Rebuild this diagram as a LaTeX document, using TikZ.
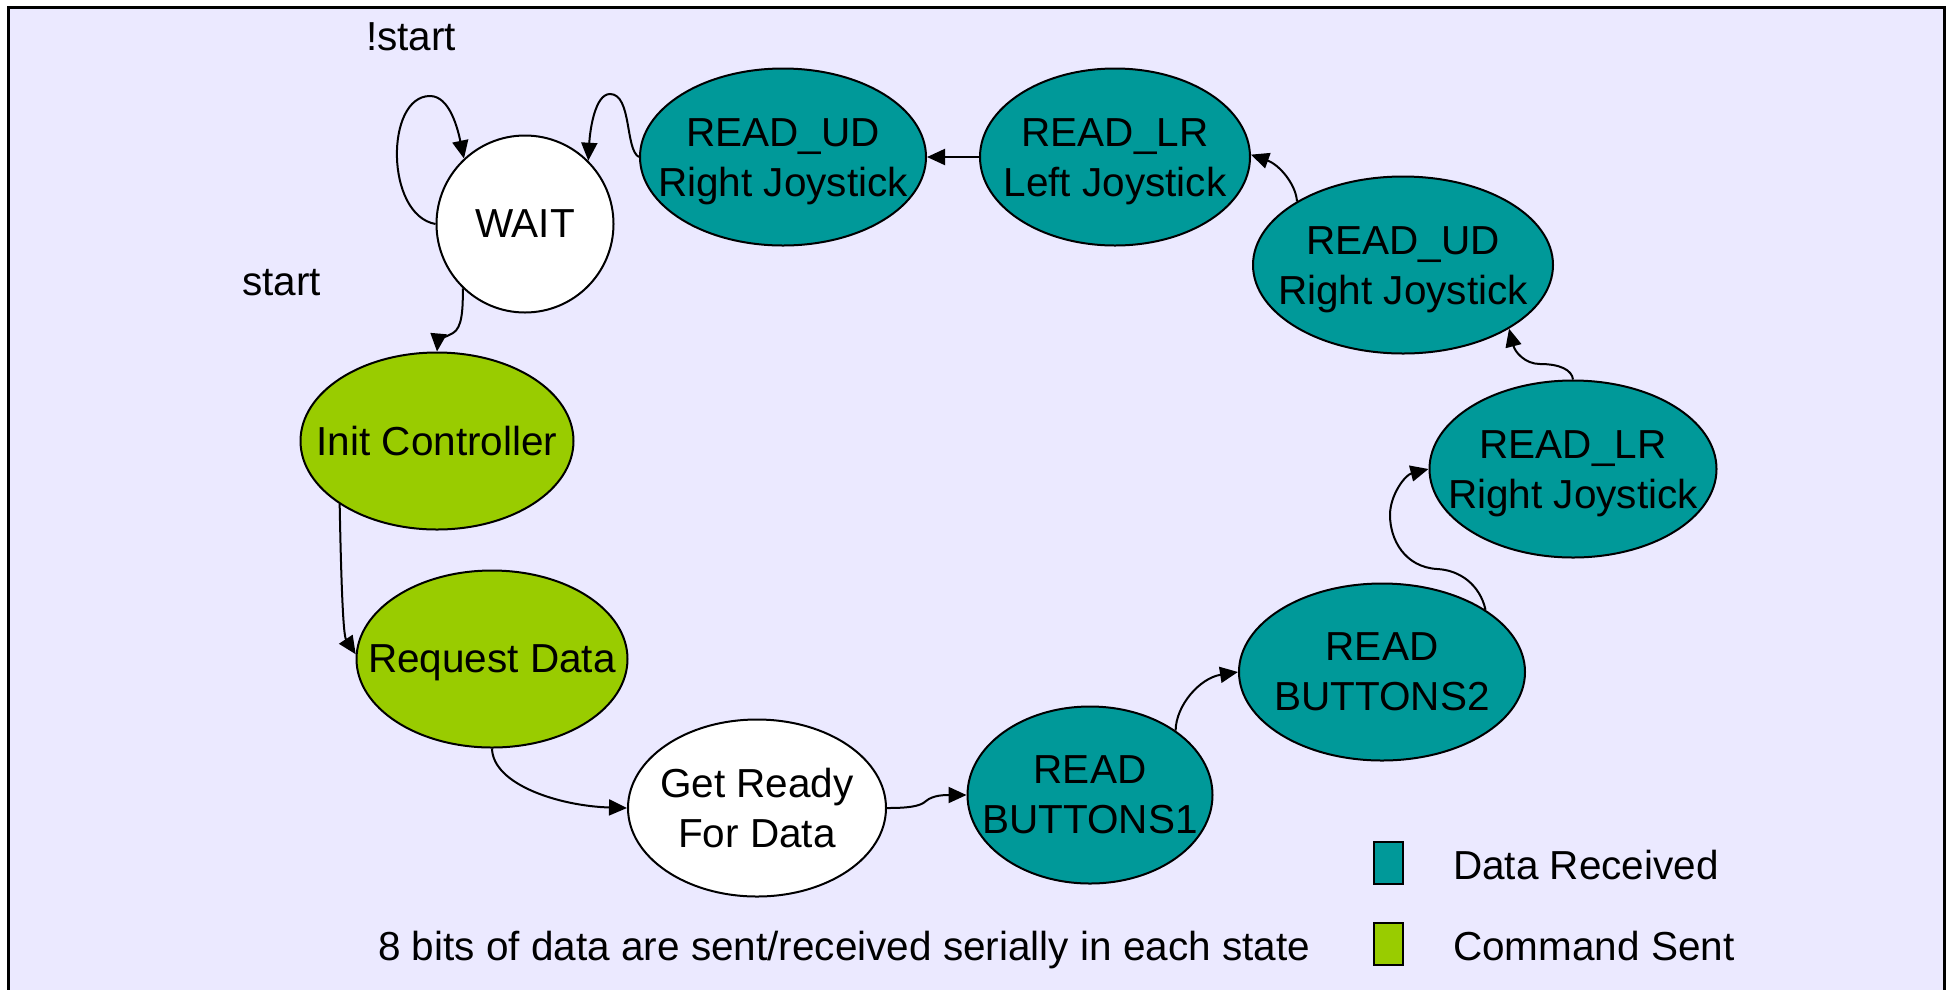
\documentclass[tikz,border=0pt]{standalone}
\usepackage{fontspec}
\setmainfont{Liberation Sans}
\usetikzlibrary{arrows.meta,shapes.geometric}

\definecolor{panel}{RGB}{235,233,255}
\definecolor{datafill}{RGB}{0,153,153}
\definecolor{cmdfill}{RGB}{153,204,0}

\tikzset{
  state/.style={ellipse, draw=black, line width=2pt, inner sep=0pt, minimum height=177pt},
  txt/.style={align=center, inner sep=0pt},
  flow/.style={line width=2pt, -{Triangle[length=18pt,width=16pt]}},
  note/.style={anchor=base west, inner sep=0pt},
  swatch/.style={draw=black, line width=2pt, minimum width=29pt, minimum height=42pt, inner sep=0pt}
}

\begin{document}
\begin{tikzpicture}[x=1pt, y=-1pt, font=\fontsize{40.5}{50}\selectfont]
  \useasboundingbox (0,0) rectangle (1949,989);
  \fill[white] (0,0) rectangle (1949,989);
  % framed panel
  \draw[line width=3pt, fill=panel] (8,7) rectangle (1944,1000);

  % states
  \node[state, fill=white,    minimum width=177pt] (wait)     at (525,224)  {};
  \node[state, fill=datafill, minimum width=286pt] (rudTop)   at (783,157)  {};
  \node[state, fill=datafill, minimum width=270pt] (rlrLeft)  at (1115,157) {};
  \node[state, fill=datafill, minimum width=300pt] (rudRight) at (1403,265) {};
  \node[state, fill=datafill, minimum width=287pt] (rlrRight) at (1573,469) {};
  \node[state, fill=datafill, minimum width=286pt] (btn2)     at (1382,672) {};
  \node[state, fill=datafill, minimum width=245pt] (btn1)     at (1090,795) {};
  \node[state, fill=white,    minimum width=258pt] (ready)    at (757,808)  {};
  \node[state, fill=cmdfill,  minimum width=271pt] (request)  at (492,659)  {};
  \node[state, fill=cmdfill,  minimum width=273pt] (init)     at (437,441)  {};

  % state names
  \node[txt, text depth=0pt] (waitT) at (wait) {WAIT};
  \node[txt, yshift=-5pt] (rudTopT) at (rudTop) {READ\_UD\\Right Joystick};
  \node[txt, yshift=-5pt] (rlrLeftT) at (rlrLeft) {READ\_LR\\Left Joystick};
  \node[txt, yshift=-5pt] (rudRightT) at (rudRight) {READ\_UD\\Right Joystick};
  \node[txt, yshift=-5pt] (rlrRightT) at (rlrRight) {READ\_LR\\Right Joystick};
  \node[txt] (btn2T) at (btn2) {READ\\BUTTONS2};
  \node[txt] (btn1T) at (btn1) {READ\\BUTTONS1};
  \node[txt] (readyT) at (ready) {Get Ready\\For Data};
  \node[txt, text depth=0pt] (requestT) at (request) {Request Data};
  \node[txt, text depth=0pt] (initT) at (init) {Init Controller};

  % transitions
  \draw[flow] (wait.180) .. controls (385,215) and (385,96) .. (430,96)
              .. controls (450,96) and (458,130) .. (wait.133);
  \draw[flow] (rudTop.180) .. controls (625,150) and (632,94) .. (610,94)
              .. controls (595,94) and (590,130) .. (wait.45);
  \draw[flow] (rlrLeft.180) -- (rudTop.0);
  \draw[flow] (rudRight.149) .. controls (1296,185) and (1280,165) .. (rlrLeft.1);
  \draw[flow] (rlrRight.90) .. controls (1572,370) and (1560,364) .. (1540,364)
              .. controls (1525,364) and (1515,352) .. (rudRight.-31);
  \draw[flow] (btn2.31) .. controls (1480,585) and (1460,570) .. (1437,569)
              .. controls (1405,567) and (1390,540) .. (1390,515)
              .. controls (1390,495) and (1405,475) .. (rlrRight.180);
  \draw[flow] (btn1.37) .. controls (1176,705) and (1200,678) .. (btn2.180);
  \draw[flow] (ready.0) .. controls (905,808) and (920,807) .. (926,801)
              .. controls (933,795) and (945,795) .. (btn1.180);
  \draw[flow] (request.270) .. controls (493,785) and (560,806) .. (ready.180);
  \draw[flow] (init.213) .. controls (341,575) and (343,635) .. (request.178);
  \draw[flow] (wait.226) .. controls (463,310) and (462,328) .. (453,333)
              .. controls (444,338) and (438,340) .. (init.90);

  % transition conditions
  \node[note] (notStart) at (366,50) {!start};
  \node[note] (startLbl) at (242,295) {start};

  % legend and remark
  \node[swatch, fill=datafill] (swData) at (1388.5,863) {};
  \node[swatch, fill=cmdfill]  (swCmd)  at (1388.5,944) {};
  \node[note] (legData) at (1453,879) {Data Received};
  \node[note] (legCmd)  at (1453,960) {Command Sent};
  \node[note] (remark)  at (378,960) {8 bits of data are sent/received serially in each state};
\end{tikzpicture}
\end{document}
